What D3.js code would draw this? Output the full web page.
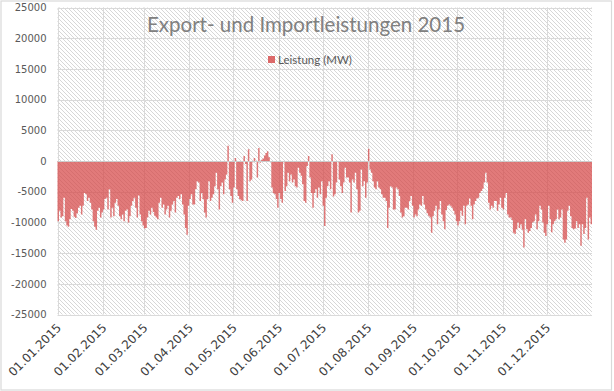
<!DOCTYPE html>
<html>
<head>
<meta charset="utf-8">
<script src="https://cdn.jsdelivr.net/npm/d3@7"></script>
<style>
  html, body { margin: 0; padding: 0; background: #fff; }
  svg { display: block; }
</style>
</head>
<body>
<svg id="chart" width="614" height="391"></svg>
<script>
// ---------- DATA ----------
const title = "Export- und Importleistungen 2015";
const seriesName = "Leistung (MW)";
const startDate = "2015-01-01";
const endDate = "2016-01-01";
const yTicks = [25000, 20000, 15000, 10000, 5000, 0, -5000, -10000, -15000, -20000, -25000];
const monthLabels = ["01.01.2015","01.02.2015","01.03.2015","01.04.2015","01.05.2015","01.06.2015",
                     "01.07.2015","01.08.2015","01.09.2015","01.10.2015","01.11.2015","01.12.2015"];
// daily values (MW), 01.01.2015 .. 31.12.2015
const leistung = [
  -9800,-8100,-9200,-9000,-6000,-9800,-10500,-10700,-9500,-7800,
  -8100,-9100,-9300,-8500,-7600,-7300,-8700,-7300,-5200,-5400,
  -6500,-6000,-6800,-7900,-9800,-10700,-11200,-8100,-7600,-9200,
  -8400,-7900,-6200,-6000,-7900,-4600,-9200,-7600,-9000,-6800,
  -6200,-7300,-9000,-9500,-8700,-9800,-8100,-7900,-10000,-9000,
  -7300,-6500,-6000,-7600,-9200,-5600,-8700,-9800,-10500,-11000,
  -10900,-9200,-8100,-8700,
  -7600,-8300,-8900,-9200,-9500,-6800,-6000,-7600,-7100,-8700,
  -7900,-7300,-9200,-8100,-7100,-6500,-8400,-6000,-5700,-6200,
  -5400,-7100,-8700,-10900,-12000,-7300,-6200,-5400,-7100,-7100,
  -4600,-3300,-3500,-6500,-5200,-6200,-8400,-9200,-6200,-3300,
  -6500,-6000,-5400,-4100,-1900,-4600,-7900,-4100,-3500,-5400,
  -3000,-2200,2500,-4600,-5700,-6800,-4300,500,-4600,-5700,
  -6200,-6400,-6500,800,-500,-6500,1900,-3300,-3000,-200,
  500,-100,-2700,2100,-300,200,400,900,1300,1600,
  600,-100,-4300,-5200,-5400,-6200,-7600,-5200,-6200,-6800,
  -200,-4900,-4100,-1900,-3300,-2200,-3500,-3000,-4100,-4300,
  -1100,-1900,-2400,-3800,-6500,-6800,-800,800,-2700,-5200,
  -7600,-5200,-4600,-6000,-4300,-5400,-3300,-7300,-10600,-6000,
  -4100,-3300,
  -4600,1100,-5800,-5400,-3500,-100,-3000,-4100,-5200,-3500,
  -1100,-2700,-2700,-3500,-8400,-3000,-3500,-1900,-4600,-8400,
  -8100,-1400,-4100,-3300,-6000,-3500,2000,-1400,-1900,-3300,
  -4300,-4600,-3300,-4300,-4600,-5400,-6000,-6000,-6500,-10900,
  -7600,-4100,-4300,-7900,-7900,-4300,-4600,-5700,-8400,-9200,
  -9000,-7600,-7600,-7900,-6500,-5700,-7300,-9200,-8700,-9000,
  -7900,-7100,
  -7300,-5700,-7100,-7900,-8500,-8900,-9200,-11700,-9000,-8100,
  -7300,-10300,-7900,-6500,-8700,-9800,-11100,-8000,-7300,-7100,
  -7300,-7600,-8100,-8700,-9800,-10500,-9800,-8100,-8900,-7300,
  -10300,-7300,-7100,-6100,-7300,-9500,-7100,-6500,-6100,-6000,
  -5200,-4900,-4500,-3500,-1900,-3500,-6800,-7900,-7300,-7600,
  -6500,-6500,-8100,-7100,-6000,-7600,-7900,-6000,-5200,-8700,
  -9200,
  -9200,-9600,-11700,-11900,-11100,-10000,-10900,-10300,-11200,-14100,
  -9500,-11100,-11700,-11400,-10900,-10000,-9800,-8700,-11100,-9800,
  -7300,-7900,-10000,-11700,-12200,-10300,-7300,-9500,-11600,-10300,
  -9800,-9500,-7900,-9500,-9200,-7900,-12800,-13300,-12800,-8100,
  -7300,-9000,-10900,-11100,-11000,-9800,-10900,-10300,-13800,-10300,
  -11900,-10900,-6000,-12800,-9200,-10300
];

// ---------- LAYOUT ----------
const svg = d3.select("#chart");
const W = 614, H = 391;
const plot = { left: 57.5, right: 592, top: 7.5, bottom: 314.5 };

const parse = d3.utcParse("%Y-%m-%d");
const t0 = parse(startDate), t1 = parse(endDate);
const data = leistung.map((v, i) => ({ date: d3.utcDay.offset(t0, i), value: v }));
// closing point so the last day keeps its width in the step curve
const stepData = data.concat([{ date: t1, value: leistung[leistung.length - 1] }]);

const x = d3.scaleUtc().domain([t0, t1]).range([plot.left, plot.right]);
const y = d3.scaleLinear().domain([-25000, 25000]).range([plot.bottom, plot.top]);

// background + outer border
svg.append("rect").attr("x", 0).attr("y", 0).attr("width", W).attr("height", H).attr("fill", "#fff");
svg.append("rect").attr("x", 1).attr("y", 1).attr("width", 610.5).attr("height", 389)
  .attr("fill", "none").attr("stroke", "#d9d9d9").attr("stroke-width", 1.2);

// hatch pattern
const defs = svg.append("defs");
const pat = defs.append("pattern").attr("id", "hatch").attr("patternUnits", "userSpaceOnUse")
  .attr("width", 4).attr("height", 4);
pat.append("rect").attr("width", 4).attr("height", 4).attr("fill", "#fff");
pat.append("path").attr("d", "M-1,-1 L5,5 M-1,3 L1,5 M3,-1 L5,1")
  .attr("stroke", "#d2d2d2").attr("stroke-width", 0.9);

svg.append("rect")
  .attr("x", plot.left).attr("y", plot.top)
  .attr("width", plot.right - plot.left).attr("height", plot.bottom - plot.top)
  .attr("fill", "url(#hatch)");

// gridlines
const monthTicks = d3.utcMonth.range(t0, t1);
const grid = svg.append("g").attr("stroke", "#dadada").attr("stroke-width", 1);
grid.selectAll("line.h").data(yTicks).join("line")
  .attr("x1", plot.left).attr("x2", plot.right)
  .attr("y1", d => Math.round(y(d)) + 0.5).attr("y2", d => Math.round(y(d)) + 0.5);
grid.selectAll("line.v").data(monthTicks).join("line")
  .attr("y1", plot.top).attr("y2", plot.bottom)
  .attr("x1", d => Math.round(x(d)) + 0.5).attr("x2", d => Math.round(x(d)) + 0.5);

// area
const area = d3.area()
  .x(d => x(d.date))
  .y0(y(0))
  .y1(d => y(d.value))
  .curve(d3.curveStepAfter);
svg.append("path").datum(stepData)
  .attr("d", area)
  .attr("fill", "rgb(214,70,70)")
  .attr("fill-opacity", 0.72);

// zero line
svg.append("line")
  .attr("x1", plot.left).attr("x2", plot.right)
  .attr("y1", Math.round(y(0)) + 0.5).attr("y2", Math.round(y(0)) + 0.5)
  .attr("stroke", "#cccccc").attr("stroke-width", 1);

// y axis labels
const yAxis = d3.axisLeft(y).tickValues(yTicks).tickSize(0).tickPadding(0).tickFormat(d => String(d));
const gy = svg.append("g").attr("transform", `translate(${plot.left - 11},0)`).call(yAxis);
gy.select(".domain").remove();
gy.selectAll("text")
  .attr("fill", "#595959")
  .style("font-family", "'DejaVu Sans', sans-serif")
  .style("font-size", "10px");

// x axis labels
const xAxis = d3.axisBottom(x).tickValues(monthTicks).tickSize(0).tickPadding(0)
  .tickFormat((d, i) => monthLabels[i]);
const gx = svg.append("g").attr("transform", `translate(0,${plot.bottom})`).call(xAxis);
gx.select(".domain").remove();
gx.selectAll("text")
  .attr("fill", "#404040")
  .style("font-family", "'DejaVu Sans', sans-serif")
  .style("font-size", "12px")
  .attr("text-anchor", "end")
  .attr("dy", 0)
  .attr("y", 0)
  .attr("transform", "translate(4,14) rotate(-45)");

// title
svg.append("text")
  .attr("x", 306).attr("y", 32)
  .attr("text-anchor", "middle")
  .attr("fill", "#808080")
  .style("font-family", "Lato, 'Open Sans', sans-serif")
  .style("font-size", "20.5px")
  .text(title);

// legend
svg.append("rect").attr("x", 268).attr("y", 56).attr("width", 7).attr("height", 7)
  .attr("fill", "rgb(214,70,70)").attr("fill-opacity", 0.8);
svg.append("text")
  .attr("x", 278).attr("y", 63.5)
  .attr("fill", "#595959")
  .style("font-family", "Lato, 'Open Sans', sans-serif")
  .style("font-size", "11.5px")
  .text(seriesName);
</script>
</body>
</html>
